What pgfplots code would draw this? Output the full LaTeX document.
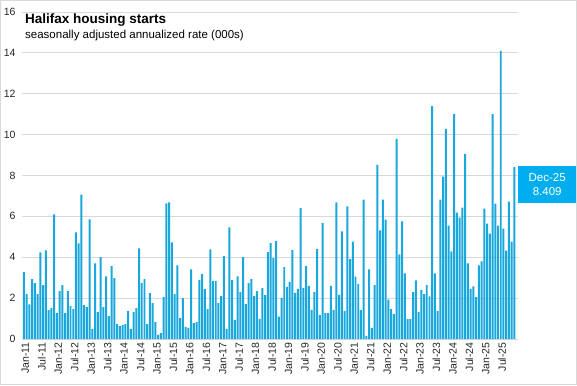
\documentclass[border=0pt]{standalone}
\usepackage{fontspec}
\setmainfont{Liberation Sans}
\usepackage{pgfplots}
\usepackage{pgfplotstable}
\pgfplotsset{compat=1.18}
\definecolor{barc}{HTML}{1AA7DC}
\definecolor{boxc}{HTML}{00AEEF}
\definecolor{gridc}{HTML}{D9D9D9}
\pgfplotstableread{
i v
0 3.27
1 2.2
2 1.7
3 2.93
4 2.73
5 2.2
6 4.24
7 2.63
8 4.34
9 1.41
10 1.51
11 6.1
12 1.27
13 2.34
14 2.63
15 1.27
16 2.34
17 1.61
18 1.46
19 5.22
20 4.68
21 7.07
22 1.66
23 1.56
24 5.85
25 0.49
26 3.7
27 1.32
28 4.0
29 1.56
30 3.07
31 1.12
32 3.56
33 2.98
34 0.73
35 0.63
36 0.68
37 0.73
38 1.37
39 0.49
40 1.32
41 1.51
42 4.44
43 2.73
44 2.93
45 0.73
46 2.24
47 1.76
48 0.83
49 0.2
50 0.29
51 2.05
52 6.63
53 6.68
54 4.73
55 2.2
56 3.6
57 1.02
58 2.0
59 0.58
60 0.54
61 3.41
62 0.78
63 0.83
64 2.88
65 3.17
66 2.44
67 1.46
68 4.39
69 2.83
70 2.83
71 1.76
72 2.1
73 4.05
74 0.49
75 5.46
76 2.88
77 0.93
78 3.07
79 2.29
80 4.0
81 1.71
82 2.73
83 2.93
84 2.1
85 2.34
86 0.98
87 2.49
88 2.15
89 4.25
90 4.69
91 3.96
92 4.79
93 1.09
94 2.01
95 3.52
96 2.55
97 2.79
98 4.35
99 2.26
100 2.45
101 6.4
102 2.5
103 3.57
104 2.6
105 1.43
106 2.31
107 4.4
108 1.17
109 5.67
110 1.27
111 1.27
112 2.6
113 1.43
114 6.69
115 2.16
116 5.27
117 1.37
118 6.49
119 3.91
120 4.77
121 3.05
122 2.68
123 1.41
124 6.82
125 0.15
126 3.41
127 0.54
128 2.63
129 8.52
130 5.31
131 6.82
132 5.84
133 1.93
134 1.46
135 1.22
136 9.79
137 4.14
138 5.75
139 3.21
140 0.97
141 0.97
142 2.29
143 2.87
144 1.31
145 2.39
146 2.19
147 2.63
148 2.09
149 11.4
150 3.21
151 1.36
152 6.82
153 7.94
154 10.28
155 5.55
156 4.29
157 11.0
158 6.18
159 5.94
160 6.43
161 9.06
162 3.7
163 2.44
164 2.58
165 2.05
166 3.6
167 3.8
168 6.38
169 5.65
170 5.16
171 11.0
172 6.62
173 5.55
174 14.1
175 5.4
176 4.33
177 6.72
178 4.77
179 8.409
}\starts
\begin{document}
\begin{tikzpicture}[x=1pt,y=1pt]
\path (0,0) rectangle (577,385);
\draw[gridc, line width=0.8pt] (0.5,0.5) rectangle (576.5,384.5);
\begin{axis}[at={(22pt,46pt)}, anchor=south west, scale only axis,
  width=496pt, height=327pt,
  xmin=-0.7, xmax=180.3, ymin=0, ymax=16,
  ytick={0,2,...,16}, ymajorgrids, grid style={gridc, line width=0.8pt},
  axis line style={draw=none}, major tick length=0pt,
  xtick={0,6,...,174},
  xticklabels={Jan-11,Jul-11,Jan-12,Jul-12,Jan-13,Jul-13,Jan-14,Jul-14,Jan-15,Jul-15,Jan-16,Jul-16,Jan-17,Jul-17,Jan-18,Jul-18,Jan-19,Jul-19,Jan-20,Jul-20,Jan-21,Jul-21,Jan-22,Jul-22,Jan-23,Jul-23,Jan-24,Jul-24,Jan-25,Jul-25},
  x tick label style={rotate=90, anchor=east, yshift=-1.5pt, font=\fontsize{10.5}{12}\selectfont, text=black!85},
  y tick label style={font=\fontsize{10.5}{12}\selectfont, xshift=-3pt, text=black!85},
  /pgf/number format/assume math mode=true,
  ybar, bar width=0.72, clip=false]
\addplot[fill=barc, draw=none] table[x=i, y=v] {\starts};
\node[fill=boxc, text=white, anchor=north west, minimum width=58pt, minimum height=37pt, inner sep=2pt, align=center, font=\fontsize{11.5}{14}\selectfont] at (axis cs:180.3,8.46) {Dec-25\\8.409};
\end{axis}
\node[anchor=base west, inner sep=0pt, font=\fontsize{13.5}{16}\selectfont\bfseries] at (25,361) {Halifax housing starts};
\node[anchor=base west, font=\fontsize{11.5}{13}\selectfont, inner sep=0pt] at (25,346.5) {seasonally adjusted annualized rate (000s)};
\end{tikzpicture}
\end{document}
